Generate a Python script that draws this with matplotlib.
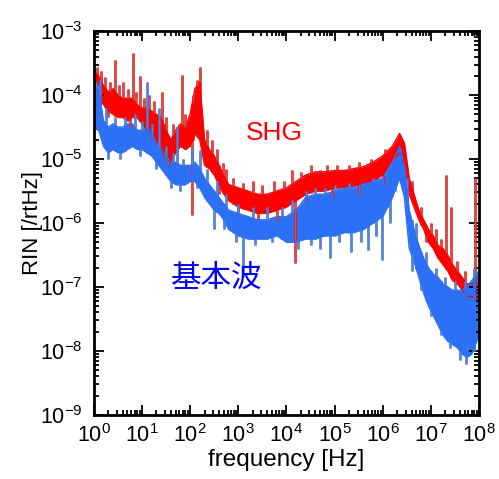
import numpy as np
import matplotlib
matplotlib.use('Agg')
import matplotlib.pyplot as plt
from matplotlib.ticker import LogLocator, NullFormatter

plt.rcParams['font.family'] = ['Liberation Sans', 'DejaVu Sans']
plt.rcParams['mathtext.fontset'] = 'custom'
plt.rcParams['mathtext.rm'] = 'Liberation Sans'
plt.rcParams['mathtext.default'] = 'regular'

# ---------------------------------- DATA ------------------------------------ #
# log10(frequency) and log10(RIN) envelopes of the measured spectra

# SHG (red)
shg_logf = [0.00, 0.10, 0.20, 0.30, 0.40, 0.50, 0.60, 0.70, 0.80, 0.90,
            1.00, 1.10, 1.20, 1.30, 1.40, 1.50, 1.60, 1.70, 1.80, 1.90,
            2.00, 2.10, 2.20, 2.30, 2.40, 2.50, 2.60, 2.70, 2.80, 3.00,
            3.20, 3.40, 3.60, 3.80, 4.00, 4.20, 4.40, 4.60, 4.80, 5.00,
            5.20, 5.40, 5.60, 5.80, 6.00, 6.20, 6.35, 6.45, 6.55, 6.65,
            6.75, 6.85, 6.95, 7.05, 7.15, 7.25, 7.35, 7.45, 7.55, 7.65,
            7.75, 7.85, 7.95, 8.00]
shg_lo = [-4.20, -4.05, -4.15, -4.25, -4.30, -4.35, -4.35, -4.40, -4.35, -4.35,
          -4.45, -4.55, -4.60, -4.75, -4.85, -5.00, -5.05, -4.90, -4.80, -4.85,
          -4.80, -4.60, -4.70, -5.10, -5.15, -5.25, -5.40, -5.55, -5.65, -5.75,
          -5.80, -5.85, -5.85, -5.80, -5.75, -5.65, -5.55, -5.50, -5.50, -5.45,
          -5.45, -5.42, -5.40, -5.35, -5.25, -5.05, -4.90, -5.10, -5.55, -5.75,
          -5.95, -6.10, -6.30, -6.40, -6.55, -6.65, -6.75, -6.90, -6.95, -7.05,
          -7.15, -7.15, -7.20, -7.20]
shg_hi = [-3.60, -3.70, -3.85, -3.95, -3.90, -4.00, -4.05, -4.05, -4.05, -4.15,
          -4.20, -4.20, -4.25, -4.30, -4.35, -4.55, -4.70, -4.55, -4.45, -4.50,
          -4.30, -3.90, -3.80, -4.70, -4.85, -4.95, -5.10, -5.25, -5.40, -5.45,
          -5.50, -5.55, -5.55, -5.50, -5.45, -5.35, -5.25, -5.20, -5.20, -5.18,
          -5.18, -5.15, -5.12, -5.05, -4.95, -4.80, -4.60, -4.75, -5.30, -5.55,
          -5.80, -5.95, -6.10, -6.20, -6.35, -6.40, -6.50, -6.65, -6.75, -6.85,
          -6.95, -6.95, -6.95, -6.95]
shg_spike_logf = [0.06, 0.15, 0.23, 0.33, 0.44, 0.52, 0.60, 0.70, 0.81, 0.88,
                  0.96, 1.05, 1.15, 1.25, 1.41, 1.50, 1.65, 1.73, 1.83, 1.90,
                  2.05, 2.14, 2.20, 2.35, 2.45, 2.55, 2.68, 2.75, 2.90, 3.10,
                  3.30, 3.50, 3.75, 3.95, 4.12, 4.30, 4.50, 4.70, 4.85, 5.05,
                  5.30, 5.50, 5.75, 6.05, 6.60, 6.80, 7.00, 7.10, 7.20, 7.32,
                  7.42, 7.55, 7.70, 7.92]
shg_spike_val = [-3.56, -3.62, -3.72, -3.80, -3.45, -3.85, -3.80, -3.90, -3.34, -3.95,
                 -3.70, -4.05, -4.00, -4.10, -3.95, -4.35, -4.45, -4.50, -3.69, -4.30,
                 -4.00, -3.77, -3.56, -4.55, -4.70, -4.85, -5.06, -5.15, -5.30, -5.37,
                 -5.35, -5.40, -5.35, -5.35, -5.17, -5.20, -5.10, -5.17, -5.10, -5.10,
                 -5.10, -5.05, -5.00, -4.85, -5.35, -5.75, -6.00, -6.10, -6.25, -5.25,
                 -5.75, -6.60, -6.75, -5.30]
shg_dip_logf = [0.30, 0.75, 1.20, 1.45, 1.55, 2.03, 2.60, 3.00, 3.40, 3.80,
                4.18, 4.40, 4.95, 5.50, 6.00, 6.90]
shg_dip_val = [-4.35, -4.50, -4.75, -4.95, -5.10, -5.87, -5.55, -5.90, -5.95, -5.95,
               -6.63, -5.70, -5.60, -5.55, -5.40, -6.30]

# fundamental (blue)
fund_logf = shg_logf
fund_lo = [-4.50, -4.55, -4.80, -4.90, -4.85, -4.90, -4.90, -4.85, -4.80, -4.85,
           -4.85, -4.90, -4.95, -5.05, -5.15, -5.25, -5.35, -5.40, -5.40, -5.40,
           -5.35, -5.35, -5.45, -5.60, -5.70, -5.80, -5.85, -5.95, -6.10, -6.20,
           -6.25, -6.25, -6.25, -6.20, -6.30, -6.30, -6.25, -6.25, -6.20, -6.20,
           -6.15, -6.15, -6.10, -6.00, -5.90, -5.60, -5.30, -5.60, -6.40, -6.60,
           -6.85, -7.10, -7.30, -7.45, -7.60, -7.75, -7.85, -7.90, -7.95, -8.05,
           -8.10, -8.05, -7.85, -7.80]
fund_hi = [-3.85, -3.90, -4.40, -4.50, -4.45, -4.50, -4.50, -4.45, -4.45, -4.55,
           -4.55, -4.50, -4.60, -4.75, -4.85, -4.95, -5.05, -5.05, -5.10, -5.10,
           -5.10, -5.05, -5.15, -5.30, -5.40, -5.50, -5.60, -5.70, -5.80, -5.85,
           -5.90, -5.95, -5.95, -5.90, -5.90, -5.80, -5.60, -5.55, -5.55, -5.50,
           -5.45, -5.45, -5.40, -5.35, -5.30, -5.05, -4.80, -5.10, -5.80, -6.10,
           -6.35, -6.55, -6.70, -6.80, -6.85, -6.95, -7.00, -7.05, -7.05, -7.05,
           -7.00, -6.90, -6.80, -6.75]
fund_spike_logf = [0.04, 0.08, 0.12, 0.25, 0.45, 0.65, 0.85, 1.00, 1.10, 1.20,
                   1.35, 1.50, 1.65, 1.73, 1.85, 2.04, 2.20, 2.35, 2.55, 2.75,
                   3.00, 3.30, 3.60, 3.90, 4.12, 4.40, 4.60, 4.80, 5.00, 5.30,
                   5.60, 5.80, 6.10, 6.25, 6.36, 6.50, 6.70, 6.90, 7.10, 7.30,
                   7.50, 7.70, 7.90]
fund_spike_val = [-3.80, -3.85, -3.77, -4.20, -4.35, -4.35, -4.30, -4.40, -3.80, -4.45,
                  -4.20, -4.80, -4.90, -4.50, -5.00, -4.81, -4.86, -5.15, -5.35, -5.55,
                  -5.70, -5.75, -5.75, -5.75, -5.64, -5.50, -5.45, -5.45, -5.40, -5.38,
                  -5.37, -5.30, -5.15, -5.00, -4.83, -5.30, -6.00, -6.45, -6.70, -6.85,
                  -6.90, -6.90, -6.70]
fund_dip_logf = [0.30, 0.55, 0.95, 1.30, 1.60, 1.80, 2.15, 2.50, 2.70, 2.95,
                 3.10, 3.35, 3.70, 4.05, 4.25, 4.50, 4.70, 4.90, 5.10, 5.35,
                 5.55, 5.70, 5.85, 5.99, 6.15, 6.60, 6.80, 7.00, 7.20, 7.40,
                 7.60, 7.72, 7.90]
fund_dip_val = [-5.00, -5.00, -4.95, -5.15, -5.45, -5.50, -5.45, -6.10, -6.10, -6.30,
                -6.84, -6.35, -6.30, -6.30, -6.40, -6.35, -6.40, -6.55, -6.30, -6.45,
                -6.30, -6.42, -6.20, -6.58, -6.00, -6.75, -7.05, -7.45, -7.75, -7.95,
                -8.15, -8.20, -8.00]


# ------------------------------- DRAW TRACE --------------------------------- #
def draw_trace(ax, logf, lo, hi, spk_f, spk_v, dip_f, dip_v, color, spike_color):
    logf = np.array(logf)
    lo = np.array(lo)
    hi = np.array(hi)
    f = 10 ** logf
    ax.fill_between(f, 10 ** lo, 10 ** hi, color=color, lw=0)
    ax.plot(f, 10 ** hi, color=color, lw=1.0)
    ax.plot(f, 10 ** lo, color=color, lw=1.0)

    # narrow spikes sticking out of the noise band, up and down
    sf = np.array(spk_f)
    ax.vlines(10 ** sf, 10 ** np.interp(sf, logf, lo), 10 ** np.array(spk_v),
              color=color, lw=1.8)
    ax.vlines(10 ** sf, 10 ** np.interp(sf, logf, hi), 10 ** np.array(spk_v),
              color=spike_color, lw=1.0)
    df = np.array(dip_f)
    ax.vlines(10 ** df, 10 ** np.array(dip_v), 10 ** np.interp(df, logf, hi),
              color=color, lw=1.8)
    ax.vlines(10 ** df, 10 ** np.array(dip_v), 10 ** np.interp(df, logf, lo),
              color=spike_color, lw=1.0)


fig = plt.figure(figsize=(4.99, 4.79), dpi=100)
ax = fig.add_axes([0.188, 0.134, 0.772, 0.801])

draw_trace(ax, shg_logf, shg_lo, shg_hi, shg_spike_logf, shg_spike_val,
           shg_dip_logf, shg_dip_val, '#ff0000', '#c05858')
draw_trace(ax, fund_logf, fund_lo, fund_hi, fund_spike_logf, fund_spike_val,
           fund_dip_logf, fund_dip_val, '#2b70f5', '#6482c0')

ax.set_xscale('log')
ax.set_yscale('log')
ax.set_xlim(1, 1e8)
ax.set_ylim(1e-9, 1e-3)

ax.xaxis.set_major_locator(LogLocator(base=10, numticks=20))
ax.yaxis.set_major_locator(LogLocator(base=10, numticks=20))
ax.xaxis.set_minor_locator(LogLocator(base=10, subs=np.arange(2, 10), numticks=20))
ax.yaxis.set_minor_locator(LogLocator(base=10, subs=np.arange(2, 10), numticks=20))
ax.xaxis.set_minor_formatter(NullFormatter())
ax.yaxis.set_minor_formatter(NullFormatter())

ax.tick_params(which='both', direction='in', top=True, right=True, width=1.3)
ax.tick_params(which='major', length=7, labelsize=15.5)
ax.tick_params(which='minor', length=3.5)
ax.tick_params(axis='y', which='major', pad=8)
ax.tick_params(axis='x', which='major', pad=7)
for s in ax.spines.values():
    s.set_linewidth(2)

# labels
ax.set_xlabel('frequency [Hz]', fontsize=17.5, labelpad=1)
ax.set_ylabel('RIN [/rtHz]', fontsize=16, labelpad=-2)

ax.text(10 ** 3.76, 10 ** -4.59, 'SHG', color='#ff0000', fontsize=19,
        ha='center', va='center')
ax.text(10 ** 2.55, 10 ** -6.87, '基本波', color='#0000ff', fontsize=22,
        ha='center', va='center', family=['Noto Sans CJK JP', 'DejaVu Sans'])

fig.savefig('out.png', dpi=100)
